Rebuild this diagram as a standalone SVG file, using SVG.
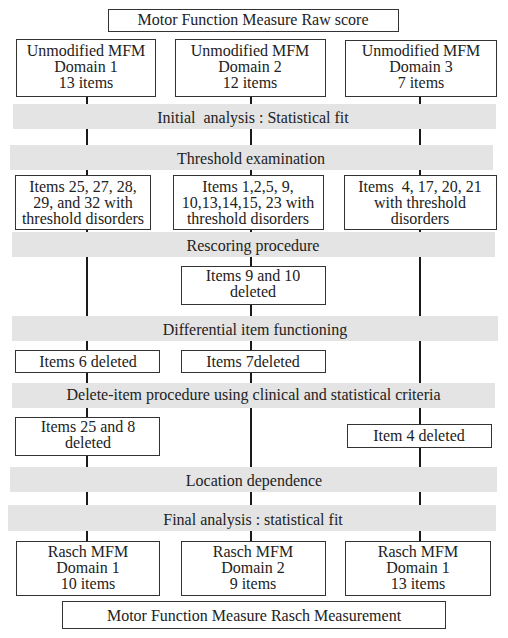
<svg xmlns="http://www.w3.org/2000/svg" width="508" height="638" viewBox="0 0 508 638">
<style>
text{font-family:"Liberation Serif","Times New Roman",serif;font-size:16px;fill:#222;text-anchor:middle}
.box{fill:#fff;stroke:#333;stroke-width:1}
.band{fill:#e4e4e4;stroke:none}
.conn{stroke:#1a1a1a;stroke-width:2;fill:none}
</style>
<rect width="508" height="638" fill="#fff"/>
<g id="connectors">
<line class="conn" x1="87" y1="96" x2="87" y2="541"/>
<line class="conn" x1="251" y1="96" x2="251" y2="541"/>
<line class="conn" x1="420" y1="96" x2="420" y2="541"/>
</g>
<g id="raw"><rect class="box" x="108.5" y="9.5" width="290" height="22"/><text x="253" y="25">Motor Function Measure Raw score</text></g>
<g id="d1"><rect class="box" x="16.5" y="39.5" width="139" height="57"/><text x="86" y="56">Unmodified MFM<tspan x="86" dy="16">Domain 1</tspan><tspan x="86" dy="16">13 items</tspan></text></g>
<g id="d2"><rect class="box" x="175.5" y="39.5" width="150" height="57"/><text x="250" y="56">Unmodified MFM<tspan x="250" dy="16">Domain 2</tspan><tspan x="250" dy="16">12 items</tspan></text></g>
<g id="d3"><rect class="box" x="345.5" y="40.5" width="151" height="56"/><text x="421" y="56">Unmodified MFM<tspan x="421" dy="16">Domain 3</tspan><tspan x="421" dy="16">7 items</tspan></text></g>
<g id="initial"><rect class="band" x="13" y="104" width="483" height="25"/><text x="253" y="123" xml:space="preserve">Initial  analysis : Statistical fit</text></g>
<g id="threshold"><rect class="band" x="10" y="145" width="483" height="25"/><text x="251" y="164">Threshold examination</text></g>
<g id="t1"><rect class="box" x="15.5" y="175.5" width="135" height="54"/><text x="83" y="192">Items 25, 27, 28,<tspan x="83" dy="16">29, and 32 with</tspan><tspan x="83" dy="16">threshold disorders</tspan></text></g>
<g id="t2"><rect class="box" x="173.5" y="175.5" width="150" height="54"/><text x="248" y="192">Items 1,2,5, 9,<tspan x="248" dy="16">10,13,14,15, 23 with</tspan><tspan x="248" dy="16">threshold disorders</tspan></text></g>
<g id="t3"><rect class="box" x="344.5" y="175.5" width="152" height="54"/><text x="420" y="192" xml:space="preserve">Items  4, 17, 20, 21<tspan x="420" dy="16">with threshold</tspan><tspan x="420" dy="16">disorders</tspan></text></g>
<g id="rescoring"><rect class="band" x="12" y="232" width="483" height="25"/><text x="253" y="251">Rescoring procedure</text></g>
<g id="r2"><rect class="box" x="181.5" y="266.5" width="144" height="38"/><text x="253" y="281">Items 9 and 10<tspan x="253" dy="16">deleted</tspan></text></g>
<g id="dif"><rect class="band" x="12" y="316" width="486" height="25"/><text x="255" y="334.5">Differential item functioning</text></g>
<g id="f1"><rect class="box" x="15.5" y="350.5" width="144" height="22"/><text x="88" y="366.5">Items 6 deleted</text></g>
<g id="f2"><rect class="box" x="181.5" y="350.5" width="144" height="22"/><text x="253" y="366.5">Items 7deleted</text></g>
<g id="delete"><rect class="band" x="12" y="383" width="483" height="25"/><text x="253.5" y="400">Delete-item procedure using clinical and statistical criteria</text></g>
<g id="e1"><rect class="box" x="15.5" y="417.5" width="144" height="38"/><text x="88" y="432">Items 25 and 8<tspan x="88" dy="16">deleted</tspan></text></g>
<g id="e3"><rect class="box" x="347.5" y="424.5" width="144" height="23"/><text x="419" y="441">Item 4 deleted</text></g>
<g id="location"><rect class="band" x="10" y="467" width="487" height="25"/><text x="254" y="486">Location dependence</text></g>
<g id="final"><rect class="band" x="8" y="505" width="488" height="26"/><text x="253" y="525">Final analysis : statistical fit</text></g>
<g id="m1"><rect class="box" x="16.5" y="541.5" width="143" height="54"/><text x="88" y="557">Rasch MFM<tspan x="88" dy="16">Domain 1</tspan><tspan x="88" dy="16">10 items</tspan></text></g>
<g id="m2"><rect class="box" x="181.5" y="541.5" width="144" height="54"/><text x="253" y="557">Rasch MFM<tspan x="253" dy="16">Domain 2</tspan><tspan x="253" dy="16">9 items</tspan></text></g>
<g id="m3"><rect class="box" x="345.5" y="541.5" width="145" height="54"/><text x="418" y="557">Rasch MFM<tspan x="418" dy="16">Domain 1</tspan><tspan x="418" dy="16">13 items</tspan></text></g>
<g id="rasch"><rect class="box" x="62.5" y="601.5" width="383" height="27"/><text x="254" y="621">Motor Function Measure Rasch Measurement</text></g>
</svg>
